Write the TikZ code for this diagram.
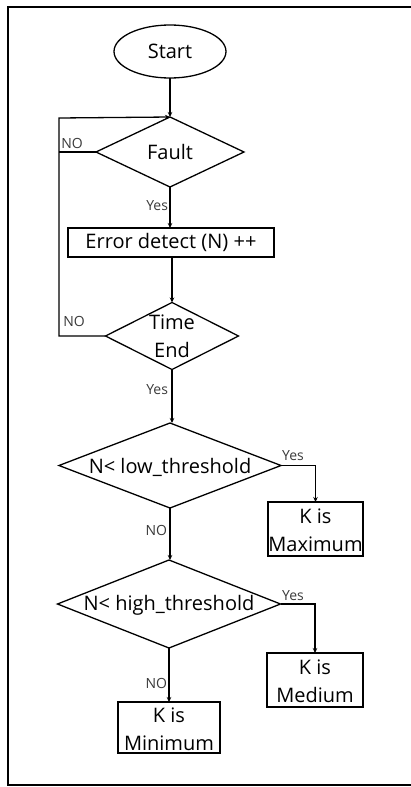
\documentclass[tikz,border=0pt]{standalone}
\usepackage{fontspec}
\setmainfont{Open Sans}
\usetikzlibrary{shapes.geometric,arrows.meta}
\definecolor{lbl}{HTML}{3A3A3A}
\begin{document}
\begin{tikzpicture}[x=1pt,y=-1pt,
  every node/.style={inner sep=0pt,outer sep=0pt},
  ln/.style={line width=1.3pt,draw=black},
  arr/.style={ln,-{Stealth[length=5pt,width=4.5pt]}},
  dia/.style={ln,diamond,minimum width=#1},
  boxn/.style={ln,rectangle},
  txt/.style={font=\fontsize{20}{28}\selectfont,align=center,text=black},
  small/.style={font=\fontsize{14}{16}\selectfont,text=lbl}]
\useasboundingbox (0,0) rectangle (411,787);
\clip (0,0) rectangle (411,787);
\draw[line width=2pt] (8,7) rectangle (430,785);
% nodes
\node[ln,ellipse,minimum width=112pt,minimum height=53pt] (start) at (170,51.5) {};
\node[txt] (startT) at (start) {Start};
\node[dia=148pt,minimum height=70pt] (fault) at (170,152) {};
\node[txt] (faultT) at (fault) {Fault};
\node[boxn,minimum width=206pt,minimum height=29pt] (err) at (171,242.5) {};
\node[txt] (errT) at (err) {Error detect (N) ++};
\node[dia=133pt,minimum height=67pt] (time) at (172,336) {};
\node[txt] (timeT) at (172,336) {Time\\End};
\node[dia=222pt,minimum height=85pt] (low) at (170,465.5) {};
\node[txt] (lowT) at (170,467) {N< low\_threshold};
\node[boxn,minimum width=95pt,minimum height=54pt] (max) at (315.5,529) {};
\node[txt] (maxT) at (315.5,530) {K is\\Maximum};
\node[dia=223pt,minimum height=88pt] (high) at (169,604) {};
\node[txt] (highT) at (169,605) {N< high\_threshold};
\node[boxn,minimum width=96pt,minimum height=54pt] (med) at (315,680) {};
\node[txt] (medT) at (315,681) {K is\\Medium};
\node[boxn,minimum width=102pt,minimum height=51pt] (min) at (169,727.5) {};
\node[txt] (minT) at (169,729) {K is\\Minimum};
% loop coordinates
\coordinate (loopT) at (59,118);
\coordinate (loopB) at (59,336);
% connectors
\draw[arr] (start.south) -- (fault.north);
\draw[arr] (fault.south) -- (err.north -| fault.south);
\draw[arr] (err.south -| time.north) -- (time.north);
\draw[arr] (time.south) -- (low.north -| time.south);
\draw[arr] (low.south) -- (high.north -| low.south);
\draw[arr] (high.south) -- (min.north -| high.south);
\draw[arr] (low.east) -| (max.north);
\draw[arr] (high.east) -| (med.north);
\draw[arr] (time.west) -- (loopB) -- (loopT) -- (fault.north);
\draw[ln] (fault.west) -- (fault.west -| loopT);
% labels
\node[small] (no1) at (72,143) {NO};
\node[small] (no2) at (74,321) {NO};
\node[small,anchor=east] (yes1) at (168,206) {Yes};
\node[small,anchor=east] (yes2) at (168,390) {Yes};
\node[small] (yes3) at (293,456) {Yes};
\node[small,anchor=east] (no3) at (167,530) {NO};
\node[small] (yes4) at (293,596) {Yes};
\node[small,anchor=east] (no4) at (167,683) {NO};
\end{tikzpicture}
\end{document}
